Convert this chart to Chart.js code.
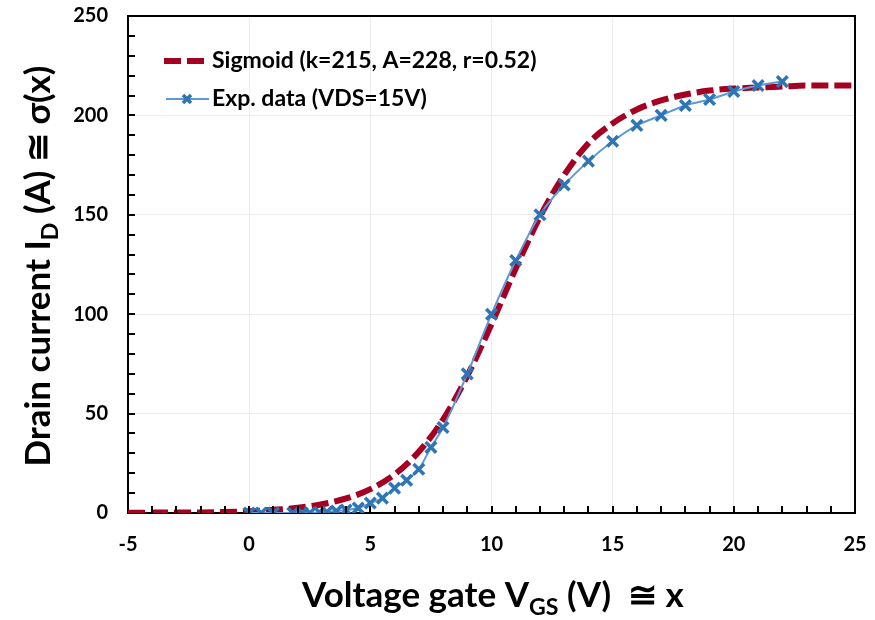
<!DOCTYPE html>
<html lang="en">
<head>
  <meta charset="UTF-8">
  <title>Sigmoid fit of drain current</title>
  <script src="https://cdn.jsdelivr.net/npm/chart.js"></script>
  <style>
    body { margin: 0; background: #fff; }
    #wrap { width: 875px; height: 620px; }
  </style>
</head>
<body>
  <div id="wrap"><canvas id="sigChart" width="875" height="620"></canvas></div>

  <script>
    // values
    const sigmoidX = [-5, -4, -3, -2, -1, 0, 1, 2, 3, 4, 5, 6, 7, 8, 9, 10, 11, 12, 13, 14, 15, 16, 17, 18, 19, 20, 21, 22, 23, 24, 25];
    const sigmoidY = [0.1, 0.2, 0.2, 0.3, 0.5, 0.9, 1.6, 2.6, 4.4, 7.3, 12, 19.4, 30.8, 47, 69, 95, 123, 149, 170, 186, 196, 203, 207.5, 210.5, 212.5, 213.5, 214, 214.5, 215, 215, 215];

    const expX = [0, 0.5, 1, 1.8, 2.2, 2.5, 2.9, 3.2, 3.6, 4, 4.5, 5, 5.5, 6, 6.5, 7, 7.5, 8, 9, 10, 11, 12, 13, 14, 15, 16, 17, 18, 19, 20, 21, 22];
    const expY = [0, 0, 0, 0, 0, 0, 0.3, 0.5, 1, 1.5, 2.5, 5, 7.5, 12.5, 16.5, 22, 33, 43, 70, 100, 127, 150, 165, 177, 187, 195, 200, 205, 208, 212, 215, 217];

    const xTicks = [-5, 0, 5, 10, 15, 20, 25];
    const yTicks = [0, 50, 100, 150, 200, 250];

    const sigLabel = 'Sigmoid (k=215, A=228, r=0.52)';
    const expLabel = 'Exp. data (VDS=15V)';

    const RED = '#a50021';
    const BLUE_LINE = '#5b9bd5';
    const BLUE_MARK = '#2e75b6';
    const FONT = 'Lato, "Open Sans", sans-serif';

    function pts(xs, ys) {
      return xs.map((x, i) => ({ x: x, y: ys[i] }));
    }

    // draws text pieces in a row, some of them as subscripts
    function drawParts(ctx, parts, x, y, size) {
      let cx = x;
      parts.forEach(p => {
        const s = p.sub ? size * 0.66 : size;
        ctx.font = 'bold ' + s + 'px ' + FONT;
        ctx.fillText(p.t, cx, p.sub ? y + size * 0.22 : y);
        cx += ctx.measureText(p.t).width;
      });
      return cx - x;
    }

    function partsWidth(ctx, parts, size) {
      let w = 0;
      parts.forEach(p => {
        ctx.font = 'bold ' + (p.sub ? size * 0.66 : size) + 'px ' + FONT;
        w += ctx.measureText(p.t).width;
      });
      return w;
    }

    const framePlugin = {
      id: 'frame',
      afterDraw(chart) {
        const ctx = chart.ctx;
        const a = chart.chartArea;
        const xs = chart.scales.x, ys = chart.scales.y;
        ctx.save();
        ctx.setLineDash([]);
        ctx.fillStyle = '#000';

        // top and right edges of the box
        ctx.fillRect(a.left - 1, a.top - 1, a.right - a.left + 2, 2);
        ctx.fillRect(a.right - 1, a.top - 1, 2, a.bottom - a.top + 2);

        // minor ticks, pointing inward
        for (let v = xTicks[0] + 1; v < xTicks[xTicks.length - 1]; v++) {
          const px = Math.round(xs.getPixelForValue(v));
          ctx.fillRect(px - 1, a.bottom - 7, 2, 7);
        }
        for (let v = yTicks[0] + 10; v < yTicks[yTicks.length - 1]; v += 10) {
          const py = Math.round(ys.getPixelForValue(v));
          ctx.fillRect(a.left, py - 1, 7, 2);
        }

        // axis titles
        ctx.textBaseline = 'alphabetic';
        ctx.textAlign = 'left';
        const tSize = 35;
        const xParts = [{ t: 'Voltage gate V' }, { t: 'GS', sub: true }, { t: ' (V)  \u2245 x' }];
        const xw = partsWidth(ctx, xParts, tSize);
        drawParts(ctx, xParts, 493 - xw / 2, 607, tSize);

        const yParts = [{ t: 'Drain current I' }, { t: 'D', sub: true }, { t: ' (A) \u2245 \u03c3(x)' }];
        const yw = partsWidth(ctx, yParts, tSize);
        ctx.translate(50, 266);
        ctx.rotate(-Math.PI / 2);
        drawParts(ctx, yParts, -yw / 2, 0, tSize);
        ctx.setTransform(1, 0, 0, 1, 0, 0);

        // legend
        ctx.font = 'bold 23px ' + FONT;
        ctx.textBaseline = 'middle';
        ctx.strokeStyle = RED;
        ctx.lineWidth = 6;
        ctx.setLineDash([17, 6]);
        ctx.beginPath();
        ctx.moveTo(164, 61);
        ctx.lineTo(210, 61);
        ctx.stroke();
        ctx.setLineDash([]);
        ctx.fillText(sigLabel, 212, 61);

        ctx.strokeStyle = BLUE_LINE;
        ctx.lineWidth = 2;
        ctx.beginPath();
        ctx.moveTo(166, 99);
        ctx.lineTo(209, 99);
        ctx.stroke();
        ctx.strokeStyle = BLUE_MARK;
        ctx.lineWidth = 3.5;
        ctx.beginPath();
        ctx.moveTo(183, 95); ctx.lineTo(191, 103);
        ctx.moveTo(191, 95); ctx.lineTo(183, 103);
        ctx.stroke();
        ctx.fillText(expLabel, 212, 99);

        ctx.restore();
      }
    };

    function noPad(s) {
      s.paddingLeft = 0;
      s.paddingRight = 0;
      s.paddingTop = 0;
      s.paddingBottom = 0;
    }

    new Chart(document.getElementById('sigChart'), {
      type: 'scatter',
      data: {
        datasets: [
          {
            label: expLabel,
            data: pts(expX, expY),
            showLine: true,
            borderColor: BLUE_LINE,
            borderWidth: 2,
            cubicInterpolationMode: 'monotone',
            pointStyle: 'crossRot',
            pointRadius: 7.5,
            pointBorderWidth: 3.5,
            pointBorderColor: BLUE_MARK,
            pointBackgroundColor: BLUE_MARK,
            order: 0
          },
          {
            label: sigLabel,
            data: pts(sigmoidX, sigmoidY),
            showLine: true,
            borderColor: RED,
            borderWidth: 6,
            borderDash: [17, 6],
            cubicInterpolationMode: 'monotone',
            pointRadius: 0,
            order: 1
          }
        ]
      },
      options: {
        responsive: false,
        animation: false,
        events: [],
        layout: { padding: { top: 16, right: 20, left: 0, bottom: 0 } },
        plugins: {
          legend: { display: false },
          tooltip: { enabled: false }
        },
        scales: {
          x: {
            type: 'linear',
            min: xTicks[0],
            max: xTicks[xTicks.length - 1],
            afterBuildTicks: s => { s.ticks = xTicks.map(v => ({ value: v })); },
            afterFit: s => { s.height = 107; noPad(s); },
            grid: { color: '#ececec', lineWidth: 1, drawTicks: false },
            border: { display: true, color: '#000', width: 2 },
            ticks: {
              padding: 20,
              color: '#000',
              font: { family: FONT, weight: 'bold', size: 20 }
            }
          },
          y: {
            min: yTicks[0],
            max: yTicks[yTicks.length - 1],
            afterBuildTicks: s => { s.ticks = yTicks.map(v => ({ value: v })); },
            afterFit: s => { s.width = 128; noPad(s); },
            grid: { color: '#ececec', lineWidth: 1, drawTicks: false },
            border: { display: true, color: '#000', width: 2 },
            ticks: {
              padding: 20,
              color: '#000',
              font: { family: FONT, weight: 'bold', size: 20 }
            }
          }
        }
      },
      plugins: [framePlugin]
    });
  </script>
</body>
</html>
